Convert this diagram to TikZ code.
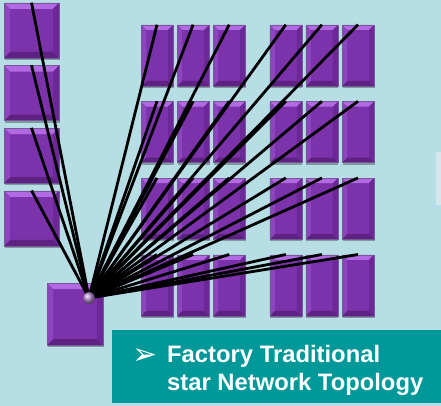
\documentclass[tikz,border=0pt]{standalone}
\usepackage{fontspec}
\setmainfont{Liberation Sans}
\newfontfamily\bulletfont{DejaVu Sans}
\usetikzlibrary{
  positioning,
  calc,
  shadows}
\definecolor{bgcolor}{RGB}{183,221,229}
\definecolor{tilecolor}{RGB}{124,50,170}
\definecolor{tiletopcolor}{RGB}{178,106,226}
\definecolor{tilebottomcolor}{RGB}{94,34,130}
\definecolor{tileleftcolor}{RGB}{142,68,190}
\definecolor{tilerightcolor}{RGB}{108,40,150}
\definecolor{tileedgecolor}{RGB}{118,88,150}
\definecolor{notecolor}{RGB}{0,152,152}
\definecolor{stripcolor}{RGB}{214,230,235}
\tikzset{
  %% bevel : raised edges of a tile
  bevel/.style={
    path picture={
      \fill [tiletopcolor]
        (path picture bounding box.north west)
        -- (path picture bounding box.north east) -- ++(-#1,-#1)
        -- ($(path picture bounding box.north west)+(#1,-#1)$) -- cycle;
      \fill [tilebottomcolor]
        (path picture bounding box.south west)
        -- (path picture bounding box.south east) -- ++(-#1,#1)
        -- ($(path picture bounding box.south west)+(#1,#1)$) -- cycle;
      \fill [tileleftcolor]
        (path picture bounding box.north west)
        -- (path picture bounding box.south west) -- ++(#1,#1)
        -- ($(path picture bounding box.north west)+(#1,-#1)$) -- cycle;
      \fill [tilerightcolor]
        (path picture bounding box.north east)
        -- (path picture bounding box.south east) -- ++(-#1,#1)
        -- ($(path picture bounding box.north east)+(-#1,-#1)$) -- cycle;
    }
  },
  %% tallbox : a machine in the factory hall
  tallbox/.style={
    rectangle,
    fill=tilecolor,
    draw=tileedgecolor,
    line width=0.6pt,
    minimum width=32pt,
    minimum height=61pt,
    inner sep=0pt,
    drop shadow={shadow xshift=0.5pt, shadow yshift=-2pt,
      opacity=0.3, fill=black},
    bevel=5pt
  },
  %% squarebox : a machine on the left wall
  squarebox/.style={
    tallbox,
    minimum width=55pt,
    minimum height=55pt,
    bevel=6pt
  },
  %% hubbox : the central switch
  hubbox/.style={
    squarebox,
    minimum width=56pt,
    minimum height=62pt
  },
  %% hubdot : the star point
  hubdot/.style={
    circle,
    ball color=tilecolor!55!white,
    minimum size=12pt,
    inner sep=0pt
  },
  %% link : a cable from the star point
  link/.style={black, line width=2.8pt},
  %% notebox : caption panel
  notebox/.style={
    rectangle,
    fill=notecolor,
    minimum width=329pt,
    minimum height=73pt,
    inner sep=0pt,
    outer sep=0pt
  },
  notetext/.style={
    white,
    align=left,
    inner sep=0pt,
    font=\bfseries\fontsize{23.8}{28}\selectfont
  }
}

\begin{document}
\begin{tikzpicture}
  [x=1pt,
  y=-1pt]

  \fill [bgcolor] (0,0) rectangle (441,406);
  \useasboundingbox (0,0) rectangle (441,406);
  \fill [stripcolor] (436,152) rectangle (441,205);

  %% Machines on the left wall
  \node (s1) [squarebox] at (31.5,30.5) {};
  \node (s2) [squarebox, below=7pt of s1] {};
  \node (s3) [squarebox, below=7pt of s2] {};
  \node (s4) [squarebox, below=7pt of s3] {};

  %% Machines in the hall
  \node (t11) [tallbox] at (157,55.5) {};
  \node (t12) [tallbox, right=3.5pt of t11] {};
  \node (t13) [tallbox, right=3.5pt of t12] {};
  \node (t14) [tallbox, right=24pt of t13] {};
  \node (t15) [tallbox, right=3.5pt of t14] {};
  \node (t16) [tallbox, right=3.5pt of t15] {};

  \node (t21) [tallbox, below=15pt of t11] {};
  \node (t22) [tallbox, right=3.5pt of t21] {};
  \node (t23) [tallbox, right=3.5pt of t22] {};
  \node (t24) [tallbox, right=24pt of t23] {};
  \node (t25) [tallbox, right=3.5pt of t24] {};
  \node (t26) [tallbox, right=3.5pt of t25] {};

  \node (t31) [tallbox, below=15pt of t21] {};
  \node (t32) [tallbox, right=3.5pt of t31] {};
  \node (t33) [tallbox, right=3.5pt of t32] {};
  \node (t34) [tallbox, right=24pt of t33] {};
  \node (t35) [tallbox, right=3.5pt of t34] {};
  \node (t36) [tallbox, right=3.5pt of t35] {};

  \node (t41) [tallbox, below=15pt of t31] {};
  \node (t42) [tallbox, right=3.5pt of t41] {};
  \node (t43) [tallbox, right=3.5pt of t42] {};
  \node (t44) [tallbox, right=24pt of t43] {};
  \node (t45) [tallbox, right=3.5pt of t44] {};
  \node (t46) [tallbox, right=3.5pt of t45] {};

  %% Central switch
  \node (switch) [hubbox] at (75,314) {};
  \coordinate (star) at (89,298);

  %% Cables
  \draw [link] (star) -- (s1.north);
  \draw [link] (star) -- (s2.north);
  \draw [link] (star) -- (s3.north);
  \draw [link] (star) -- (s4.north);

  \draw [link] (star) -- (t11.north);
  \draw [link] (star) -- (t12.north);
  \draw [link] (star) -- (t13.north);
  \draw [link] (star) -- (t14.north);
  \draw [link] (star) -- (t15.north);
  \draw [link] (star) -- (t16.north);

  \draw [link] (star) -- (t21.north);
  \draw [link] (star) -- (t22.north);
  \draw [link] (star) -- (t23.north);
  \draw [link] (star) -- (t24.north);
  \draw [link] (star) -- (t25.north);
  \draw [link] (star) -- (t26.north);

  \draw [link] (star) -- (t31.north);
  \draw [link] (star) -- (t32.north);
  \draw [link] (star) -- (t33.north);
  \draw [link] (star) -- (t34.north);
  \draw [link] (star) -- (t35.north);
  \draw [link] (star) -- (t36.north);

  \draw [link] (star) -- (t41.north);
  \draw [link] (star) -- (t42.north);
  \draw [link] (star) -- (t43.north);
  \draw [link] (star) -- (t44.north);
  \draw [link] (star) -- (t45.north);
  \draw [link] (star) -- (t46.north);

  \node (hub) [hubdot] at (star) {};

  %% Caption
  \node (note) [notebox, anchor=north west] at (112,330) {};
  \node (bullet) [below right=34pt and 20pt of note.north west,
    anchor=base west, inner sep=0pt, white]
    {\bulletfont\fontsize{30}{30}\selectfont ➢};
  \node (notetext) [below right=15pt and 55pt of note.north west,
    notetext] {%
    Factory Traditional\\
    star Network Topology
  };

\end{tikzpicture}
\end{document}
